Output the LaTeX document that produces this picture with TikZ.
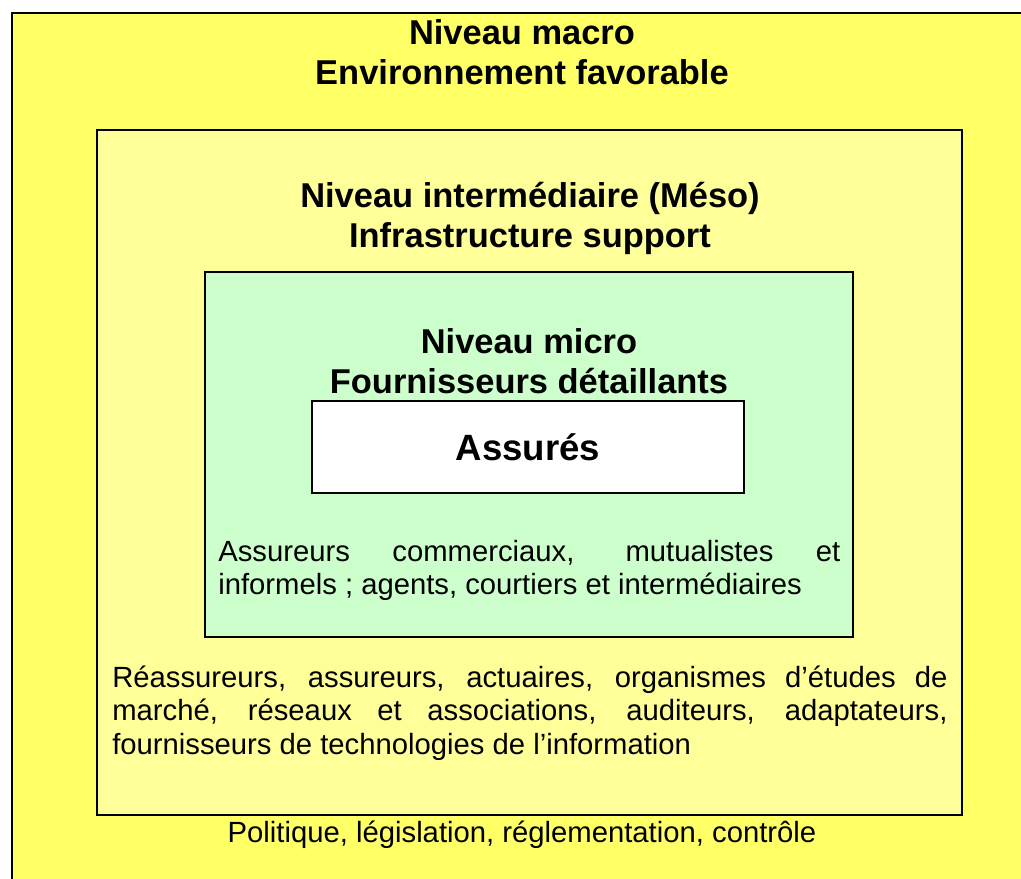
\documentclass[tikz,border=0pt]{standalone}
\usepackage{fontspec}
\setmainfont{Liberation Sans}
\usepackage{tikz}

\definecolor{macrojaune}{HTML}{FFFF66}
\definecolor{mesojaune}{HTML}{FFFF99}
\definecolor{microvert}{HTML}{CCFFCC}
\newcommand{\titrefont}{\fontsize{24.5}{28.5}\selectfont\bfseries}
\newcommand{\textefont}{\fontsize{20.8}{24}\selectfont}

\begin{document}
\begin{tikzpicture}[x=0.025cm, y=-0.025cm, %%% one unit = one pixel of the page, y downwards
    niveau/.style={draw=black, line width=1.4pt, inner sep=0pt},
    titre/.style={align=center, inner sep=0pt, font=\titrefont, anchor=base}, %%% base = last line
    texte/.style={align=justify, inner sep=0pt, font=\textefont, anchor=base west}]
      \useasboundingbox (0,0) rectangle (1021,879);

      %%% nested levels
      \node[niveau, fill=macrojaune, minimum width=25.7cm, minimum height=22.175cm] (macro) at (526,456.5) {};
      \node[niveau, fill=mesojaune, minimum width=21.625cm, minimum height=17.125cm] (meso) at (529.5,472.5) {};
      \node[niveau, fill=microvert, minimum width=16.2cm, minimum height=9.125cm] (micro) at (529,454.5) {};
      \node[niveau, fill=white, minimum width=10.8cm, minimum height=2.3cm,
            font=\fontsize{26}{30}\selectfont\bfseries] (assures) at (528,447) {Assurés};

      %%% titles
      \node[titre] (titremacro) at (522,85) {Niveau macro\\Environnement favorable};
      \node[titre] (titremeso) at (530,248) {Niveau intermédiaire (Méso)\\Infrastructure support};
      \node[titre] (titremicro) at (529,394) {Niveau micro\\Fournisseurs détaillants};

      %%% actors of each level
      \node[texte, text width=15.55cm] (acteursmicro) at (218,561)
        {Assureurs commerciaux, mutualistes et\linebreak informels ; agents, courtiers et intermédiaires};
      \node[texte, text width=20.875cm] (acteursmeso) at (112,687)
        {Réassureurs, assureurs, actuaires, organismes d’études de\linebreak marché, réseaux et associations, auditeurs, adaptateurs,\linebreak fournisseurs de technologies de l’information};
      \node[font=\textefont, inner sep=0pt, anchor=base] (acteursmacro) at (522,842)
        {Politique, législation, réglementation, contrôle};
\end{tikzpicture}
\end{document}
